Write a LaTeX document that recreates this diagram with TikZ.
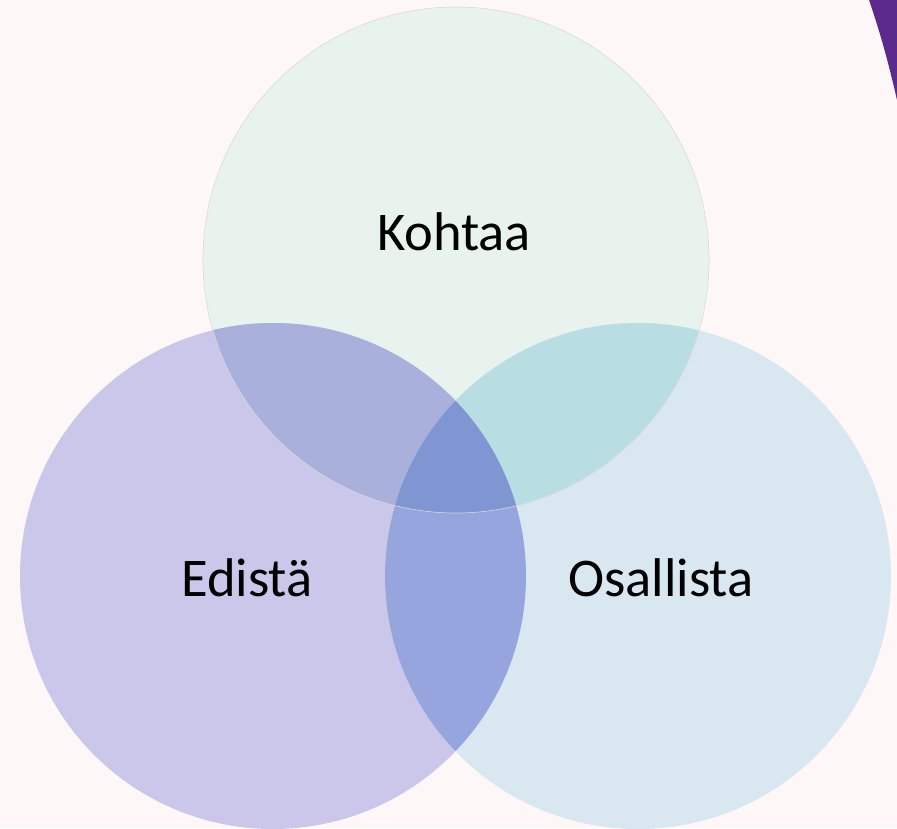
\documentclass[tikz,border=0pt]{standalone}
\usepackage{fontspec}
\setmainfont{Carlito}
\definecolor{bg}{HTML}{FEF7F7}
\definecolor{cTop}{HTML}{E8F3EE}
\definecolor{cLeft}{HTML}{CBC7EA}
\definecolor{cRight}{HTML}{D8E7F0}
\definecolor{cTL}{HTML}{AAB0DC}
\definecolor{cTR}{HTML}{B8DEE3}
\definecolor{cLR}{HTML}{97A5DE}
\definecolor{cAll}{HTML}{7F96D2}
\definecolor{arc}{HTML}{5B2A8C}
\begin{document}
\begin{tikzpicture}[x=1pt,y=-1pt,
  lbl/.style={font=\fontsize{54.5}{62}\selectfont, text=black, inner sep=0pt}]
\fill[bg] (0,0) rectangle (897,828);
\useasboundingbox (0,0) rectangle (897,828);
\fill[arc] (869,0) .. controls (881,35) and (889,65) .. (897,100) -- (897,0) -- cycle;
\def\rr{253}
\coordinate (T) at (456,260);
\coordinate (L) at (273,576);
\coordinate (R) at (638,576);
\fill[cTop] (T) circle (\rr);
\fill[cLeft] (L) circle (\rr);
\fill[cRight] (R) circle (\rr);
\begin{scope}
\clip (T) circle (\rr);
\fill[cTL] (L) circle (\rr);
\fill[cTR] (R) circle (\rr);
\end{scope}
\begin{scope}
\clip (L) circle (\rr);
\fill[cLR] (R) circle (\rr);
\end{scope}
\begin{scope}
\clip (T) circle (\rr);
\clip (L) circle (\rr);
\fill[cAll] (R) circle (\rr);
\end{scope}
\draw[black!15, line width=0.6pt] (T) circle (\rr);
\node[lbl] (kohtaa) at (454,232) {Kohtaa};
\node[lbl] (edista) at (247,578) {Edistä};
\node[lbl] (osallista) at (661,578) {Osallista};
\end{tikzpicture}
\end{document}
